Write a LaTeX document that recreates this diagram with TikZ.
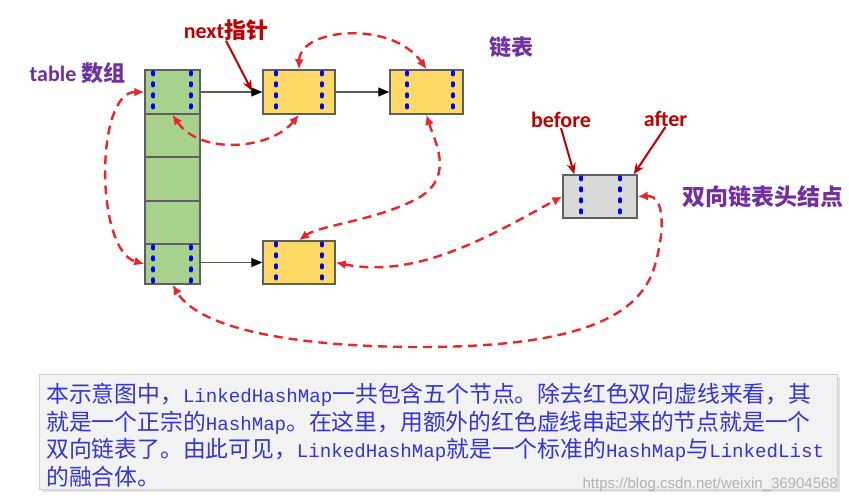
\documentclass[tikz,border=0pt]{standalone}
\usepackage{fontspec}
\setmainfont{Carlito}
\newfontfamily\cjk{Noto Sans CJK SC}
\newfontfamily\lat[Scale=0.84]{Liberation Mono}
\newfontfamily\wmfont{Liberation Sans}
\usetikzlibrary{arrows.meta}
\definecolor{greenc}{RGB}{169,209,142}
\definecolor{yellowc}{RGB}{255,217,102}
\definecolor{grayc}{RGB}{217,217,217}
\definecolor{borderc}{RGB}{95,95,95}
\definecolor{bluec}{RGB}{0,0,240}
\definecolor{redc}{RGB}{238,36,44}
\definecolor{darkredc}{RGB}{192,0,0}
\definecolor{purplec}{RGB}{112,48,160}
\definecolor{textc}{RGB}{52,52,215}
\definecolor{boxfill}{RGB}{242,242,242}
\newcommand\bluelines[3]{%
  \draw[bdot] ([xshift=#2,yshift=-3pt]#1.north west) -- ([xshift=#2]#1.south west);
  \draw[bdot] ([xshift=-#3,yshift=-3pt]#1.north east) -- ([xshift=-#3]#1.south east);}
\begin{document}
\begin{tikzpicture}[x=1pt,y=-1pt,
  box/.style={draw=borderc, line width=1.5pt, inner sep=0pt},
  cell/.style={box, fill=greenc, minimum width=55pt},
  ynode/.style={box, fill=yellowc, minimum width=72pt, minimum height=44pt},
  gnode/.style={box, fill=grayc, minimum width=74pt, minimum height=43pt},
  bdot/.style={draw=bluec, line width=4pt, line cap=round, dash pattern=on 2.2pt off 8.8pt},
  blk/.style={draw=black!65, line width=1.2pt, -{Triangle[length=11pt,width=9pt,color=black]}},
  rd/.style={draw=redc, line width=2.4pt, dash pattern=on 9pt off 6pt,
    {Latex[length=10pt,width=9pt]}-{Latex[length=10pt,width=9pt]}},
  lblarrow/.style={draw=darkredc, line width=2pt, -{Stealth[length=11pt,width=9pt]}},
  redlbl/.style={text=darkredc, font=\fontsize{22}{24}\selectfont\bfseries, inner sep=0pt},
  purlbl/.style={text=purplec, font=\fontsize{22}{24}\selectfont\bfseries, inner sep=0pt},
  txtline/.style={text=textc, font=\cjk\fontsize{22.8}{27}\selectfont, inner sep=0pt, anchor=west}
]
\useasboundingbox (0,0) rectangle (849,503);

% table cells
\node[cell, minimum height=44pt] (t1) at (172.5,92) {};
\node[cell, minimum height=43pt] (t2) at (172.5,135.5) {};
\node[cell, minimum height=44pt] (t3) at (172.5,179) {};
\node[cell, minimum height=43pt] (t4) at (172.5,222.5) {};
\node[cell, minimum height=40pt] (t5) at (172.5,264) {};

% list nodes
\node[ynode] (y1) at (299,92) {};
\node[ynode, minimum width=73pt] (y2) at (426.5,92) {};
\node[ynode, minimum height=43pt] (y3) at (299,262.5) {};
\node[gnode] (g) at (600,196.5) {};

\bluelines{t1}{9pt}{10pt}
\bluelines{t5}{9pt}{10pt}
\bluelines{y1}{14pt}{14pt}
\bluelines{y2}{18pt}{11pt}
\bluelines{y3}{14pt}{14pt}
\bluelines{g}{19pt}{18pt}

% next pointers
\draw[blk] (t1.east) -- (y1.west);
\draw[blk] (y1.east) -- (y2.west);
\draw[blk] (t5.east |- y3.west) -- (y3.west);

% labels
\node[redlbl] (nextlbl) at (226,30) {next{\cjk 指针}};
\node[purlbl] (tablelbl) at (77.5,73) {table {\cjk 数组}};
\node[purlbl] (listlbl) at (511.5,47) {\cjk 链表};
\node[redlbl] (beforelbl) at (561,120) {before};
\node[redlbl] (afterlbl) at (665.5,119) {after};
\node[purlbl, font=\fontsize{23}{25}\selectfont\bfseries] (headlbl) at (763,197) {\cjk 双向链表头结点};

\coordinate (nexttip) at (252,91);
\draw[lblarrow] (nextlbl.south) -- (nexttip);
\draw[lblarrow] (beforelbl.south) -- ([xshift=12pt]g.north west);
\draw[lblarrow] (afterlbl.south) -- ([xshift=-4pt]g.north east);

% red doubly-linked dashed curves
\draw[rd] (t1.west) .. controls (95,92) and (95,250) .. (t5.west);
\draw[rd] (t1.south) .. controls (200,155) and (270,150) .. (y1.south);
\draw[rd] (y1.north) .. controls (300,28) and (392,20) .. (y2.north);
\draw[rd] (y2.south) .. controls (434,140) and (455,175) .. (420,197)
  .. controls (380,220) and (320,225) .. (y3.north);
\draw[rd] (y3.east) .. controls (420,280) and (500,230) .. (g.west);
\draw[rd] (g.east) .. controls (665,195) and (665,230) .. (655,265)
  .. controls (640,320) and (570,347) .. (420,347)
  .. controls (300,347) and (200,330) .. (t5.south);

% text box
\fill[black!12] (42,377) rectangle (840,492);
\node[draw=black!18, fill=boxfill, line width=0.8pt, minimum width=798pt, minimum height=115pt, anchor=north west, inner sep=0pt] (tbox) at (39,374) {};
\node[txtline] (l1) at (46,395) {本示意图中，{\lat LinkedHashMap}一共包含五个节点。除去红色双向虚线来看，其};
\node[txtline] (l2) at (46,423) {就是一个正宗的{\lat HashMap}。在这里，用额外的红色虚线串起来的节点就是一个};
\node[txtline] (l3) at (46,450) {双向链表了。由此可见，{\lat LinkedHashMap}就是一个标准的{\lat HashMap}与{\lat LinkedList}};
\node[txtline] (l4) at (46,477) {的融合体。};
\node[text=black!30, font=\wmfont\fontsize{15}{16}\selectfont, inner sep=0pt, anchor=east] (wm) at (838,485) {https://blog.csdn.net/weixin\_36904568};
\end{tikzpicture}
\end{document}
